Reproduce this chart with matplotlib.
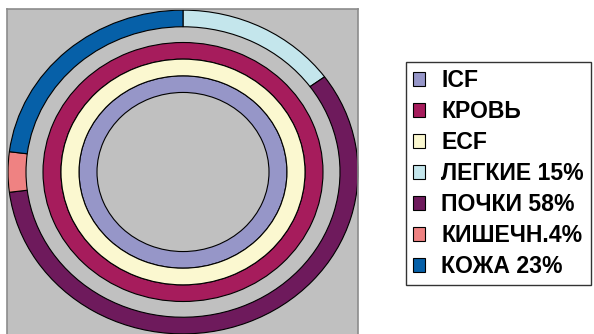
import matplotlib.pyplot as plt
import matplotlib.patches as mpatches

plt.rcParams['font.family'] = ['Liberation Sans', 'DejaVu Sans']

# inner rings are whole circles, outer ring is split by organ
ring_names = ["ICF", "КРОВЬ", "ECF"]
ring_values = [100]
outer_labels = ["ЛЕГКИЕ 15%", "ПОЧКИ 58%", "КИШЕЧН.4%", "КОЖА 23%"]
outer_values = [15, 58, 4, 23]

ring_colors = ["#9696c8", "#a61c5c", "#fbf8d0"]
outer_colors = ["#c4e6ec", "#6e1a5c", "#ef8282", "#0660a8"]

# radii in pixels (horizontal), each ring 18 px wide
ring_radius = [104, 140, 122]
outer_radius = 175
ring_w = 18
y_squash = 0.925

def main():
    fig = plt.figure(figsize=(5.94, 3.34), dpi=100)
    ax = fig.add_axes([7 / 594, 0, 351 / 594, 325 / 334])

    wp = dict(edgecolor="black", linewidth=0.8)
    handles = {}
    for name, r, c in zip(ring_names, ring_radius, ring_colors):
        w, _ = ax.pie(ring_values, radius=r, colors=[c], startangle=90,
                      counterclock=False, wedgeprops=dict(width=ring_w, **wp))
        handles[name] = w[0]
    w, _ = ax.pie(outer_values, radius=outer_radius, colors=outer_colors, startangle=90,
                  counterclock=False, wedgeprops=dict(width=ring_w, **wp))
    for lab, wedge in zip(outer_labels, w):
        handles[lab] = wedge

    ax.set_aspect("auto")
    ax.set_xlim(-176, 175)
    ax.set_ylim(-162 / y_squash, 163 / y_squash)
    ax.set_frame_on(True)
    ax.set_facecolor("#c0c0c0")
    for s in ax.spines.values():
        s.set_color("#8c8c8c")
        s.set_linewidth(1.2)
    ax.spines["bottom"].set_visible(False)

    order = ring_names + outer_labels
    leg_handles = [mpatches.Patch(facecolor=handles[k].get_facecolor(),
                                  edgecolor="black", linewidth=0.8) for k in order]
    leg = fig.legend(leg_handles, order, loc="upper left",
                     bbox_to_anchor=(406 / 594, 1 - 62 / 334),
                     prop=dict(weight="bold", size=16.6),
                     frameon=True, fancybox=False, edgecolor="black",
                     handlelength=0.53, handleheight=0.53, handletextpad=0.7,
                     labelspacing=0.35, borderpad=0.3, borderaxespad=0)
    leg.get_frame().set_linewidth(1.0)

    fig.savefig("out.png", dpi=100)

if __name__ == "__main__":
    main()
